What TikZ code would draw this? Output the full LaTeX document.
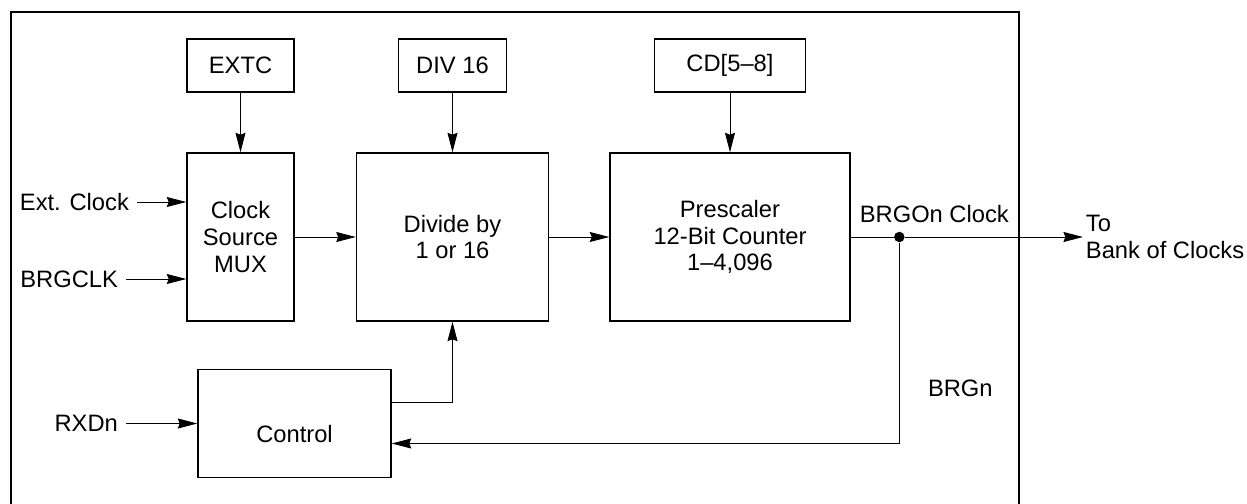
\documentclass[tikz,border=0pt]{standalone}
\usepackage{fontspec}
\setmainfont{Liberation Sans}
\usetikzlibrary{positioning,arrows.meta,calc}
\tikzset{
  >={Stealth[length=3.9mm,width=2mm,inset=0.4mm]},
  blk/.style={draw=black,line width=0.85pt,inner sep=2pt,align=center},
  regbox/.style={blk,minimum width=21.4mm,minimum height=10.6mm},
  unitbox/.style={blk,minimum height=33.6mm},
  flow/.style={->,line width=0.5pt},
  wire/.style={line width=0.5pt},
  sig/.style={inner xsep=1.6mm,inner ysep=1pt},
  lbl/.style={inner sep=1.5pt},
  jdot/.style={circle,fill=black,inner sep=0pt,minimum size=2.1mm},
  frame/.style={line width=0.75pt},
}
\begin{document}
\begin{tikzpicture}[font=\fontsize{13.5}{15.2}\selectfont]
  \useasboundingbox (0,0) rectangle (249.4mm,-100.8mm);
  \draw[frame] (2.2mm,-100.8mm) |- (203.8mm,-2.4mm) -- (203.8mm,-100.8mm);
  % main chain
  \node[unitbox,minimum width=21.4mm] (mux) at (48.1mm,-47.4mm) {Clock\\Source\\MUX};
  \node[unitbox,minimum width=38.4mm,right=12.2mm of mux] (div) {Divide by\\1 or 16};
  \node[unitbox,minimum width=48mm,right=12mm of div] (presc) {Prescaler\\12-Bit Counter\\1--4,096};
  % registers
  \node[regbox,above=11.9mm of mux] (extc) {EXTC};
  \node[regbox,minimum width=21.6mm,above=11.9mm of div] (div16) {DIV 16};
  \node[regbox,minimum width=30.2mm,above=11.9mm of presc] (cd) {CD[5--8]};
  \node[blk,minimum width=38.6mm,minimum height=21.6mm,
    below right=9.4mm and 2.2mm of mux.south west,
    label={[yshift=-2.2mm]center:Control}] (ctrl) {};
  % inputs
  \coordinate (extin) at ([yshift=7mm]mux.west);
  \coordinate (brgin) at ([yshift=-8.4mm]mux.west);
  \node[sig,left=9.8mm of extin] (extclk) {Ext. Clock};
  \node[sig,left=12mm of brgin] (brgclk) {BRGCLK};
  \node[sig,left=14.2mm of ctrl.west] (rxd) {RXDn};
  \draw[flow] (extclk) -- (extin);
  \draw[flow] (brgclk) -- (brgin);
  \draw[flow] (rxd) -- (ctrl);
  \draw[flow] (extc) -- (mux);
  \draw[flow] (div16) -- (div);
  \draw[flow] (cd) -- (presc);
  \draw[flow] (mux) -- (div);
  \draw[flow] (div) -- (presc);
  % output
  \node[jdot,right=8.6mm of presc.east] (tap) {};
  \node[lbl,align=left,right=35.6mm of tap] (bank) {To\\Bank of Clocks};
  \node[lbl,above=1.2mm of tap,xshift=7mm] (brgo) {BRGOn Clock};
  \node[lbl] (brgn) at ([xshift=12.2mm,yshift=-30.2mm]tap) {BRGn};
  \draw[wire] (presc) -- (tap);
  \draw[flow] (tap) -- (bank);
  % feedback
  \draw[flow] (tap) |- ([yshift=-4mm]ctrl.east);
  \draw[flow] ([yshift=4.2mm]ctrl.east) -| (div);
\end{tikzpicture}
\end{document}
